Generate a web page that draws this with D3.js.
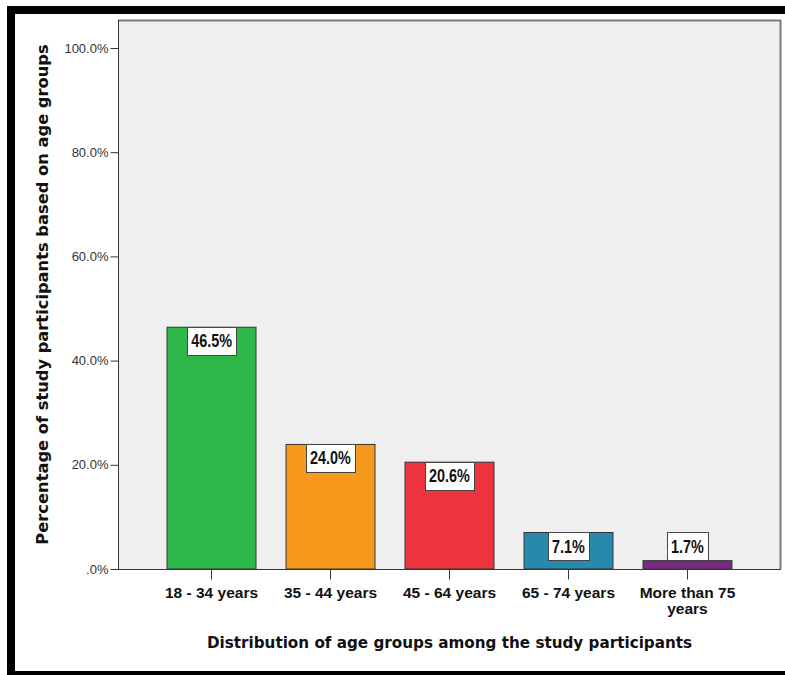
<!DOCTYPE html>
<html>
<head>
<meta charset="utf-8">
<script src="https://cdn.jsdelivr.net/npm/d3@7"></script>
<style>
  html, body { margin: 0; padding: 0; background: #ffffff; overflow: hidden; }
  svg { display: block; }
</style>
</head>
<body>
<div id="chart"></div>
<script>
// Age-group distribution of the study participants (percent of respondents)
const categories = ["18 - 34 years", "35 - 44 years", "45 - 64 years", "65 - 74 years", "More than 75 years"];
const categoryLines = [["18 - 34 years"], ["35 - 44 years"], ["45 - 64 years"], ["65 - 74 years"], ["More than 75", "years"]];
const percentages = [46.5, 24.0, 20.6, 7.1, 1.7];
const barColors = ["#2fb84a", "#f7991c", "#ef333f", "#2689ad", "#7b2a84"];
const yTicks = [0, 20, 40, 60, 80, 100];
const yTickLabels = [".0%", "20.0%", "40.0%", "60.0%", "80.0%", "100.0%"];
const xTitle = "Distribution of age groups among the study participants";
const yTitle = "Percentage of study participants based on age groups";

const W = 785, H = 675;
const plot = { left: 118, top: 20, right: 781, bottom: 569 };

const svg = d3.select("#chart").append("svg")
  .attr("width", W).attr("height", H);

svg.append("rect").attr("width", W).attr("height", H).attr("fill", "#ffffff");

// heavy black frame around the figure (its right side runs past the page edge)
svg.append("rect")
  .attr("x", 11).attr("y", 10)
  .attr("width", 800).attr("height", 665)
  .attr("fill", "none").attr("stroke", "#000").attr("stroke-width", 8);

const x = d3.scaleBand()
  .domain(categories)
  .range([plot.left, plot.right])
  .paddingInner(0.244)
  .paddingOuter(0.408);

const y = d3.scaleLinear().domain([0, 100]).range([plot.bottom, 48]);

// plot background
svg.append("rect")
  .attr("x", plot.left).attr("y", plot.top)
  .attr("width", plot.right - plot.left).attr("height", plot.bottom - plot.top)
  .attr("fill", "#efefef");

// top and right edges of the plot frame
svg.append("path")
  .attr("d", `M${plot.left},${plot.top + 0.5}H${plot.right - 0.5}V${plot.bottom}`)
  .attr("fill", "none").attr("stroke", "#7a7a7a").attr("stroke-width", 2);

// bars
svg.append("g").selectAll("rect")
  .data(percentages)
  .join("rect")
  .attr("x", (d, i) => x(categories[i]) + 0.5)
  .attr("y", d => y(d) + 0.5)
  .attr("width", x.bandwidth() - 1)
  .attr("height", d => y(0) - y(d) - 0.5)
  .attr("fill", (d, i) => barColors[i])
  .attr("stroke", "#333")
  .attr("stroke-width", 1);

// y axis
const yAxis = d3.axisLeft(y)
  .tickValues(yTicks)
  .tickFormat((d, i) => yTickLabels[i])
  .tickSize(8)
  .tickPadding(2);
const gy = svg.append("g")
  .attr("transform", `translate(${plot.left + 0.5},0)`)
  .call(yAxis);
gy.select(".domain").attr("d", `M0,${plot.top}V${plot.bottom}`).attr("stroke", "#333");
gy.selectAll(".tick line").attr("stroke", "#333");
gy.selectAll(".tick text")
  .attr("font-family", "'Liberation Sans', Arial, sans-serif")
  .attr("font-size", 13).attr("fill", "#333");

// x axis
const xAxis = d3.axisBottom(x).tickSize(10).tickFormat("");
const gx = svg.append("g")
  .attr("transform", `translate(0,${plot.bottom + 0.5})`)
  .call(xAxis);
gx.select(".domain").attr("d", `M${plot.left},0H${plot.right}`).attr("stroke", "#333");
gx.selectAll(".tick line").attr("stroke", "#333");

// category labels (wrapped where needed)
const catLabels = svg.append("g")
  .attr("font-family", "'Liberation Sans', Arial, sans-serif")
  .attr("font-weight", "bold").attr("font-size", 15.5)
  .attr("fill", "#111").attr("text-anchor", "middle");
categories.forEach((c, i) => {
  const t = catLabels.append("text")
    .attr("x", x(c) + x.bandwidth() / 2)
    .attr("y", 598);
  categoryLines[i].forEach((line, j) => {
    t.append("tspan")
      .attr("x", x(c) + x.bandwidth() / 2)
      .attr("dy", j === 0 ? 0 : 16)
      .text(line);
  });
});

// value labels in white boxes, set in a narrow bold face
const squeeze = 0.8;
const labels = svg.append("g");
percentages.forEach((v, i) => {
  const cx = x(categories[i]) + x.bandwidth() / 2;
  const g = labels.append("g");
  const txt = g.append("text")
    .attr("font-family", "'Liberation Sans', Arial, sans-serif")
    .attr("font-weight", "bold").attr("font-size", 18)
    .attr("fill", "#111").attr("text-anchor", "middle")
    .text(v.toFixed(1) + "%");
  const tw = txt.node().getComputedTextLength() * squeeze;
  const bw = Math.round(tw + 8), bh = 28;
  const barTop = y(v);
  const boxTop = (y(0) - barTop) >= bh ? barTop : barTop - bh;
  g.insert("rect", "text")
    .attr("x", Math.round(cx - bw / 2) + 0.5)
    .attr("y", Math.round(boxTop) + 0.5)
    .attr("width", bw).attr("height", bh)
    .attr("fill", "#fff").attr("stroke", "#444").attr("stroke-width", 1);
  txt.attr("transform", `translate(${cx},${boxTop + bh / 2 + 6.5}) scale(${squeeze},1)`);
});

// axis titles
svg.append("text")
  .attr("x", (plot.left + plot.right) / 2).attr("y", 648)
  .attr("text-anchor", "middle")
  .attr("font-family", "'DejaVu Sans', Verdana, sans-serif")
  .attr("font-weight", "bold").attr("font-size", 15.2).attr("fill", "#111")
  .text(xTitle);

svg.append("text")
  .attr("transform", `translate(48,${(plot.top + plot.bottom) / 2}) rotate(-90)`)
  .attr("text-anchor", "middle")
  .attr("font-family", "'DejaVu Sans', Verdana, sans-serif")
  .attr("font-weight", "bold").attr("font-size", 16.3).attr("fill", "#111")
  .text(yTitle);
</script>
</body>
</html>
